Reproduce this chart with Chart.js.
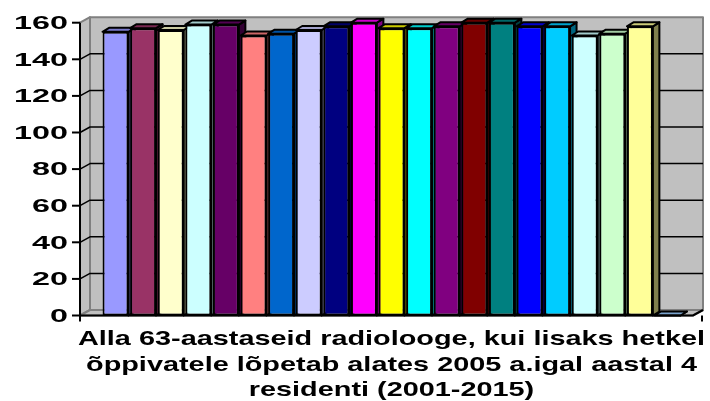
<!DOCTYPE html>
<html>
<head>
<meta charset="utf-8">
<script src="https://cdn.jsdelivr.net/npm/chart.js@4.4.1/dist/chart.umd.min.js"></script>
<style>
  html, body { margin: 0; padding: 0; background: #fff; }
  #wrap { width: 710px; height: 401px; position: relative; }
</style>
</head>
<body>
<div id="wrap"><canvas id="chart"></canvas></div>
<script>
// andmed (loetud pildilt)
const seriesNames = ['1', '2', '3', '4', '5', '6', '7', '8', '9', '10',
                     '11', '12', '13', '14', '15', '16', '17', '18', '19', '20', '21'];
const values = [155, 157, 156, 159, 159, 153, 154, 156, 158, 160,
                157, 157, 158, 160, 160, 158, 158, 153, 154, 158, 0];
const barColors = ['#9999FF', '#993366', '#FFFFCC', '#CCFFFF', '#660066', '#FF8080', '#0066CC',
                   '#CCCCFF', '#000080', '#FF00FF', '#FFFF00', '#00FFFF', '#800080', '#800000',
                   '#008080', '#0000FF', '#00CCFF', '#CCFFFF', '#CCFFCC', '#FFFF99', '#99CCFF'];
const yMax = 160;
const yStep = 20;
const titleLines = [
  'Alla 63-aastaseid radiolooge, kui lisaks hetkel',
  'õppivatele lõpetab alates 2005 a.igal aastal 4',
  'residenti (2001-2015)'
];

// 3D kuju
const DX = 6.5, DY = -4;      // tulba sügavus
const WX = 10, WY = -5.5;     // seinte sügavus
const AXIS_X = 80;            // esimese tasandi y-telg
const WALL_RIGHT = 703;

function shade(hex, f) {
  const n = parseInt(hex.slice(1), 16);
  const r = (n >> 16) & 255, g = (n >> 8) & 255, b = n & 255;
  return `rgb(${Math.round(r * f)},${Math.round(g * f)},${Math.round(b * f)})`;
}

function poly(ctx, pts, fill, stroke) {
  ctx.beginPath();
  ctx.moveTo(pts[0][0], pts[0][1]);
  for (let i = 1; i < pts.length; i++) ctx.lineTo(pts[i][0], pts[i][1]);
  ctx.closePath();
  if (fill) { ctx.fillStyle = fill; ctx.fill(); }
  if (stroke) { ctx.strokeStyle = stroke; ctx.stroke(); }
}

function line(ctx, pts) {
  ctx.beginPath();
  ctx.moveTo(pts[0][0], pts[0][1]);
  for (let i = 1; i < pts.length; i++) ctx.lineTo(pts[i][0], pts[i][1]);
  ctx.stroke();
}

// seinad, ruudustik ja tulpade pealmised/külgmised tahud
const wallsPlugin = {
  id: 'walls',
  beforeDatasetsDraw(chart) {
    const { ctx, chartArea: a, scales: { y } } = chart;
    const top = a.top, bot = a.bottom;
    ctx.save();
    ctx.lineWidth = 2;
    ctx.lineJoin = 'round';
    // vasak sein
    poly(ctx, [[AXIS_X, top], [AXIS_X + WX, top + WY], [AXIS_X + WX, bot + WY], [AXIS_X, bot]], '#c0c0c0', '#808080');
    // tagasein
    poly(ctx, [[AXIS_X + WX, top + WY], [WALL_RIGHT, top + WY], [WALL_RIGHT, bot + WY], [AXIS_X + WX, bot + WY]], '#c0c0c0', '#808080');
    // põrand
    poly(ctx, [[AXIS_X, bot], [AXIS_X + WX, bot + WY], [WALL_RIGHT, bot + WY], [WALL_RIGHT - WX, bot]], '#c0c0c0', '#808080');

    // ruudustik
    ctx.strokeStyle = '#000';
    ctx.lineWidth = 1.5;
    y.ticks.forEach(t => {
      if (t.value === 0 || t.value === yMax) return;
      const py = y.getPixelForValue(t.value);
      line(ctx, [[AXIS_X, py], [AXIS_X + WX, py + WY], [WALL_RIGHT, py + WY]]);
    });

    // tulpade tahud
    ctx.lineWidth = 2;
    const meta = chart.getDatasetMeta(0);
    meta.data.forEach((bar, i) => {
      const { x, y: yt, base, width } = bar.getProps(['x', 'y', 'base', 'width'], true);
      const L = x - width / 2, R = x + width / 2;
      poly(ctx, [[R, yt], [R + DX, yt + DY], [R + DX, base + DY], [R, base]], shade(barColors[i], 0.5), '#000');
      poly(ctx, [[L, yt], [L + DX, yt + DY], [R + DX, yt + DY], [R, yt]], shade(barColors[i], 0.8), '#000');
    });
    ctx.restore();
  }
};

// teljed, sildid ja pealkiri (tekst on venitatud nagu originaalis)
const axesPlugin = {
  id: 'axes3d',
  afterDraw(chart) {
    const { ctx, chartArea: a, scales: { y } } = chart;
    const top = a.top, bot = a.bottom;
    ctx.save();
    ctx.strokeStyle = '#000';
    ctx.lineWidth = 2;
    line(ctx, [[AXIS_X, top], [AXIS_X, bot + 6]]);
    line(ctx, [[AXIS_X, bot], [WALL_RIGHT - WX, bot], [WALL_RIGHT, bot + WY]]);
    line(ctx, [[WALL_RIGHT - 1, bot], [WALL_RIGHT - 1, bot + 6]]);

    ctx.fillStyle = '#000';
    ctx.font = 'bold 19px "Liberation Sans", Arial, sans-serif';
    ctx.textAlign = 'right';
    ctx.textBaseline = 'middle';
    y.ticks.forEach(t => {
      const py = y.getPixelForValue(t.value);
      line(ctx, [[AXIS_X - 8, py], [AXIS_X, py]]);
      ctx.save();
      ctx.translate(68, py + 1);
      ctx.scale(1.7, 1);
      ctx.fillText(String(t.value), 0, 0);
      ctx.restore();
    });

    ctx.font = 'bold 21px "Liberation Sans", Arial, sans-serif';
    ctx.textAlign = 'center';
    ctx.textBaseline = 'alphabetic';
    const sx = 627 / ctx.measureText(titleLines[0]).width;
    const cx = (a.left + a.right) / 2;
    titleLines.forEach((txt, i) => {
      ctx.save();
      ctx.translate(cx, 345 + i * 25.5);
      ctx.scale(sx, 1);
      ctx.fillText(txt, 0, 0);
      ctx.restore();
    });
    ctx.restore();
  }
};

new Chart(document.getElementById('chart'), {
  type: 'bar',
  data: {
    labels: seriesNames,
    datasets: [{
      data: values,
      backgroundColor: barColors,
      borderColor: '#000',
      borderWidth: 2,
      borderSkipped: false,
      barPercentage: 0.94,
      categoryPercentage: 1
    }]
  },
  options: {
    responsive: true,
    maintainAspectRatio: false,
    animation: false,
    layout: { padding: { left: 0, right: 28.7, top: 22.7, bottom: 0 } },
    plugins: { legend: { display: false }, tooltip: { enabled: false } },
    scales: {
      x: {
        grid: { display: false },
        border: { display: false },
        ticks: { display: false },
        afterFit: s => { s.height = 85.5; }
      },
      y: {
        min: 0,
        max: yMax,
        ticks: { display: false, stepSize: yStep },
        grid: { display: false },
        border: { display: false },
        afterFit: s => { s.width = 101.7; }
      }
    }
  },
  plugins: [wallsPlugin, axesPlugin]
});
</script>
</body>
</html>
